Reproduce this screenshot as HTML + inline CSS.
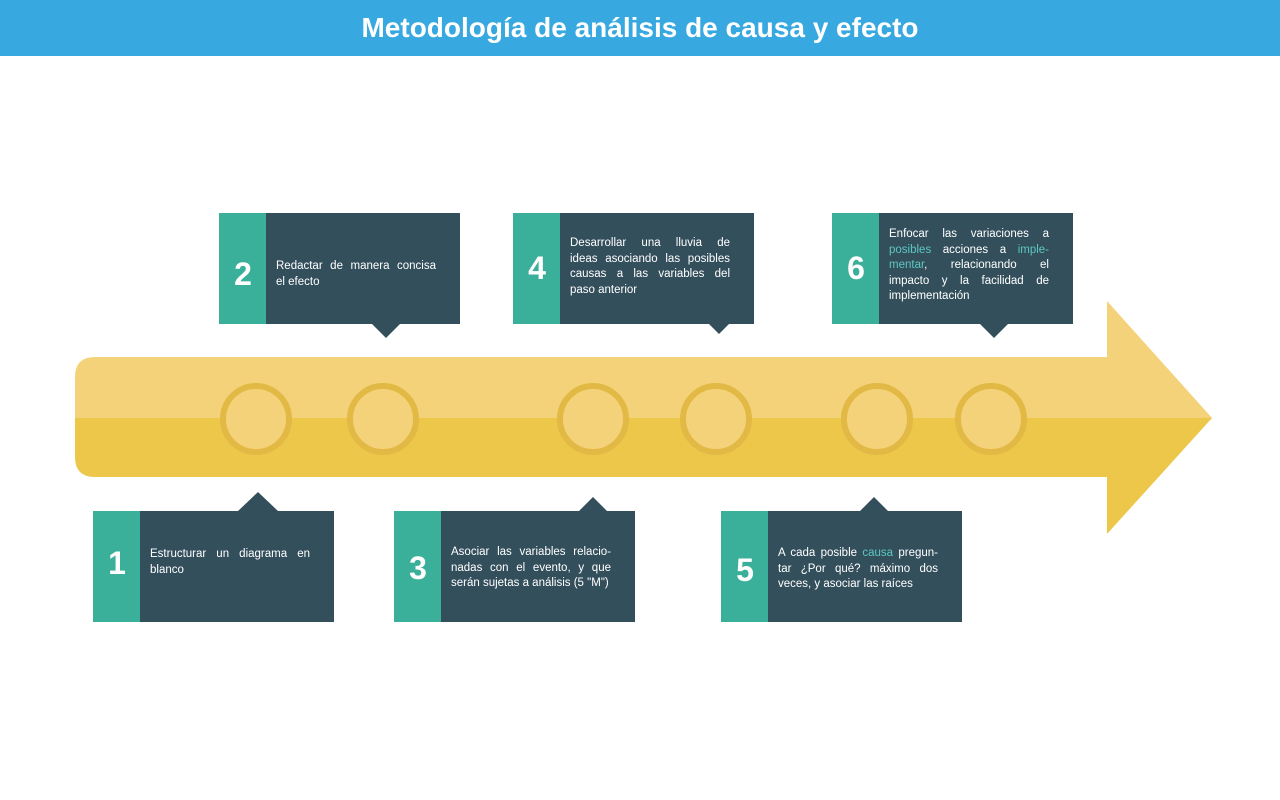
<!DOCTYPE html>
<html><head><meta charset="utf-8"><style>
body{margin:0;width:1280px;height:800px;background:#fff;position:relative;overflow:hidden;font-family:"Liberation Sans",sans-serif}
.hdr{position:absolute;left:0;top:0;width:1280px;height:56px;background:#37A8E0;color:#fff;font-weight:bold;font-size:28px;text-align:center;line-height:56px}
.t{position:absolute;color:#fff;font-size:11.5px;line-height:15.5px;width:160px;white-space:nowrap}
.t div{text-align:justify;text-align-last:justify}
.t div.l{text-align-last:left}
.n{position:absolute;color:#fff;font-weight:bold;font-size:32px;width:48px;text-align:center}
.c{color:#5CC7C0}
</style></head><body>
<div class="hdr">Metodología de análisis de causa y efecto</div>
<svg width="1280" height="800" style="position:absolute;left:0;top:0">
<path d="M95,357 H1107 V301 L1212.5,418.5 H75 V377 Q75,357 95,357Z" fill="#F4D27A"/>
<path d="M75,418 H1212 L1107,534 V477 H95 Q75,477 75,457Z" fill="#EDC74A"/>
<g fill="#F4D27A" stroke="#E2B944" stroke-width="6">
<circle cx="256" cy="419" r="33"/><circle cx="383" cy="419" r="33"/><circle cx="593" cy="419" r="33"/><circle cx="716" cy="419" r="33"/><circle cx="877" cy="419" r="33"/><circle cx="991" cy="419" r="33"/>
</g>
<g fill="#344F5C">
<rect x="219" y="213" width="241" height="111"/><path d="M372,324 L386,338 L400,324Z"/>
<rect x="513" y="213" width="241" height="111"/><path d="M709,324 L719,334 L729,324Z"/>
<rect x="832" y="213" width="241" height="111"/><path d="M980,324 L994,338 L1008,324Z"/>
<rect x="93" y="511" width="241" height="111"/><path d="M238,511 L258,492 L278,511Z"/>
<rect x="394" y="511" width="241" height="111"/><path d="M579,511 L593,497 L607,511Z"/>
<rect x="721" y="511" width="241" height="111"/><path d="M860,511 L874,497 L888,511Z"/>
</g>
<g fill="#3AB09A">
<rect x="219" y="213" width="47" height="111"/><rect x="513" y="213" width="47" height="111"/><rect x="832" y="213" width="47" height="111"/>
<rect x="93" y="511" width="47" height="111"/><rect x="394" y="511" width="47" height="111"/><rect x="721" y="511" width="47" height="111"/>
</g>
</svg>
<div class="n" style="left:219px;top:256px">2</div>
<div class="n" style="left:513px;top:250px">4</div>
<div class="n" style="left:832px;top:250px">6</div>
<div class="n" style="left:93px;top:545px">1</div>
<div class="n" style="left:394px;top:550px">3</div>
<div class="n" style="left:721px;top:552px">5</div>
<div class="t" style="left:276px;top:259px"><div>Redactar de manera concisa</div><div class="l">el efecto</div></div>
<div class="t" style="left:570px;top:236px"><div>Desarrollar una lluvia de</div><div>ideas asociando las posibles</div><div>causas a las variables del</div><div class="l">paso anterior</div></div>
<div class="t" style="left:889px;top:227px"><div>Enfocar las variaciones a</div><div><span class="c">posibles</span> acciones a <span class="c">imple-</span></div><div><span class="c">mentar</span>, relacionando el</div><div>impacto y la facilidad de</div><div class="l">implementación</div></div>
<div class="t" style="left:150px;top:547px"><div>Estructurar un diagrama en</div><div class="l">blanco</div></div>
<div class="t" style="left:451px;top:545px"><div>Asociar las variables relacio-</div><div>nadas con el evento, y que</div><div class="l">serán sujetas a análisis (5 "M")</div></div>
<div class="t" style="left:778px;top:546px"><div>A cada posible <span class="c">causa</span> pregun-</div><div>tar ¿Por qué? máximo dos</div><div class="l">veces, y asociar las raíces</div></div>
</body></html>
